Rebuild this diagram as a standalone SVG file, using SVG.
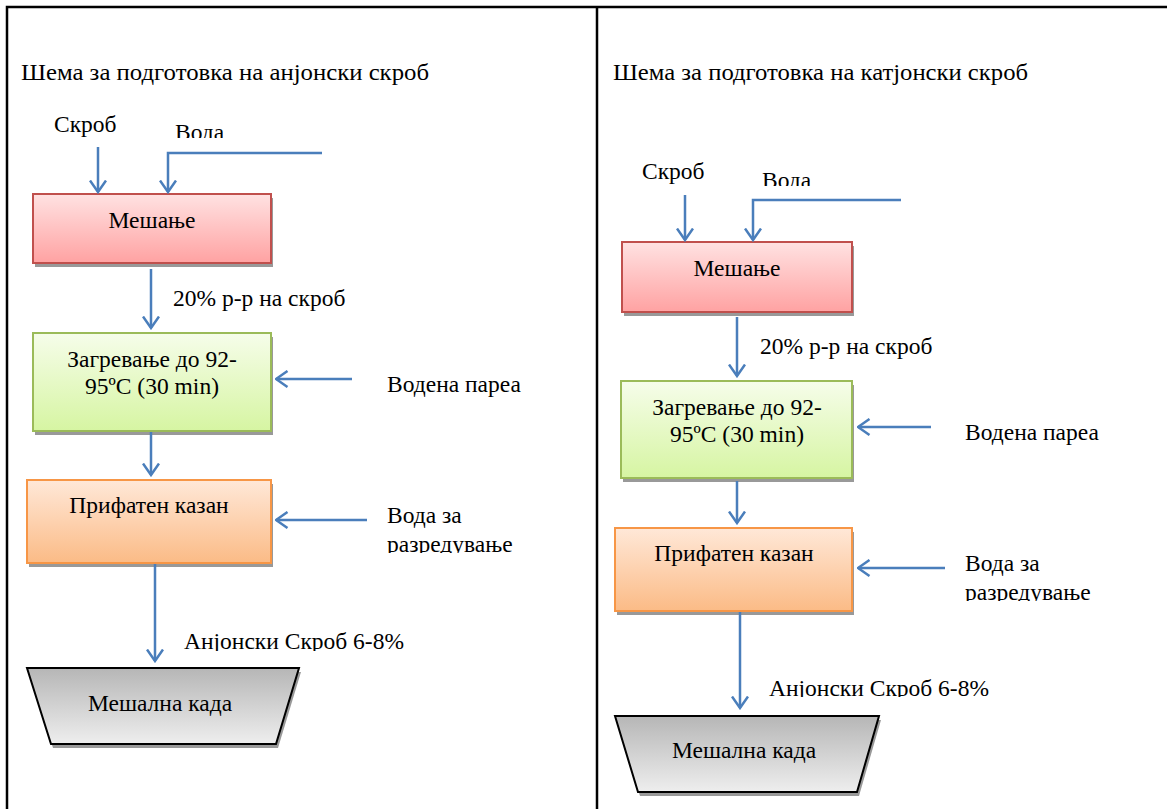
<svg xmlns="http://www.w3.org/2000/svg" width="1167" height="809" viewBox="0 0 1167 809">
<defs>
<linearGradient id="gRed" x1="0" y1="0" x2="0" y2="1"><stop offset="0" stop-color="#ffe2e2"/><stop offset="1" stop-color="#ffa2a2"/></linearGradient>
<linearGradient id="gGreen" x1="0" y1="0" x2="0" y2="1"><stop offset="0" stop-color="#f6fdea"/><stop offset="1" stop-color="#d6f5a2"/></linearGradient>
<linearGradient id="gOrange" x1="0" y1="0" x2="0" y2="1"><stop offset="0" stop-color="#ffe8d8"/><stop offset="1" stop-color="#fbbb86"/></linearGradient>
<linearGradient id="gGray" x1="0" y1="0" x2="0" y2="1"><stop offset="0" stop-color="#b6b6b6"/><stop offset="1" stop-color="#eeeeee"/></linearGradient>
<marker id="arr" viewBox="0 0 14 18" refX="12.5" refY="9" markerWidth="14" markerHeight="18" markerUnits="userSpaceOnUse" orient="auto">
<path d="M1,1 L12.5,9 L1,17" fill="none" stroke="#4a7ebb" stroke-width="2.5"/>
</marker>
<clipPath id="cVodaL"><rect x="150" y="100" width="120" height="38"/></clipPath>
<clipPath id="cVodaR"><rect x="740" y="150" width="120" height="36"/></clipPath>
<clipPath id="cRazL"><rect x="370" y="530" width="200" height="23"/></clipPath>
<clipPath id="cRazR"><rect x="950" y="578" width="200" height="23"/></clipPath>
<clipPath id="cAnL"><rect x="170" y="620" width="260" height="31"/></clipPath>
<clipPath id="cAnR"><rect x="760" y="665" width="260" height="32"/></clipPath>
</defs>
<style>
.t{font-family:'Liberation Serif','Times New Roman',serif;font-size:23.5px;fill:#000}
.h{font-family:'Liberation Serif','Times New Roman',serif;font-size:24px;fill:#000}
.c{text-anchor:middle}
.frame{stroke:#000;stroke-width:2.5;fill:none}
.shadow{fill:#999999}
.red{fill:url(#gRed);stroke:#c0504d;stroke-width:2}
.green{fill:url(#gGreen);stroke:#9bbb59;stroke-width:2}
.orange{fill:url(#gOrange);stroke:#f79646;stroke-width:2}
.gray{fill:url(#gGray);stroke:#000;stroke-width:2}
.conn path{fill:none;stroke:#4a7ebb;stroke-width:2.5;marker-end:url(#arr)}
</style>
<rect width="1167" height="809" fill="#fff"/>
<g id="frame">
<path class="frame" d="M7,809 V7 H1167 M597,7 V809"/>
</g>
<g id="titles" font-family="Liberation Serif, serif">
<text class="h" x="21" y="80" textLength="408" lengthAdjust="spacingAndGlyphs">Шема за подготовка на анјонски скроб</text>
<text class="h" x="613" y="80" textLength="415" lengthAdjust="spacingAndGlyphs">Шема за подготовка на катјонски скроб</text>
</g>
<!-- Left column -->
<g id="L-skrob" font-family="Liberation Serif, serif"><text class="t" x="54" y="132">Скроб</text></g>
<g id="L-voda" font-family="Liberation Serif, serif" clip-path="url(#cVodaL)"><text class="t" x="175" y="140">Вода</text></g>
<g id="L-meshanje" font-family="Liberation Serif, serif">
<rect class="shadow" x="35" y="198" width="238" height="69"/>
<rect class="red" x="33" y="194" width="238" height="69"/>
<text class="t c" x="152" y="228">Мешање</text>
</g>
<g id="L-zagrevanje" font-family="Liberation Serif, serif">
<rect class="shadow" x="35" y="337" width="238" height="98"/>
<rect class="green" x="33" y="333" width="238" height="98"/>
<text class="t c" x="152" y="367">Загревање до 92-</text>
<text class="t c" x="152" y="394">95ºC (30 min)</text>
</g>
<g id="L-prifaten" font-family="Liberation Serif, serif">
<rect class="shadow" x="29" y="484" width="244" height="83"/>
<rect class="orange" x="27" y="480" width="244" height="83"/>
<text class="t c" x="149" y="513">Прифатен казан</text>
</g>
<g id="L-kada" font-family="Liberation Serif, serif">
<path class="shadow" d="M29,672 L301,672 L278,748 L53,748 Z"/>
<path class="gray" d="M27,668 L299,668 L276,744 L51,744 Z"/>
<text class="t c" x="160" y="711">Мешална када</text>
</g>
<g id="L-labels" font-family="Liberation Serif, serif">
<text class="t" x="173" y="306">20% р-р на скроб</text>
<text class="t" x="387" y="392">Водена пареа</text>
<text class="t" x="387" y="523">Вода за</text>
<text class="t" x="387" y="552" clip-path="url(#cRazL)">разредување</text>
<text class="t" x="184" y="649" clip-path="url(#cAnL)">Анјонски Скроб 6-8%</text>
</g>
<!-- Right column -->
<g id="R-skrob" font-family="Liberation Serif, serif"><text class="t" x="642" y="179">Скроб</text></g>
<g id="R-voda" font-family="Liberation Serif, serif" clip-path="url(#cVodaR)"><text class="t" x="762" y="188">Вода</text></g>
<g id="R-meshanje" font-family="Liberation Serif, serif">
<rect class="shadow" x="624" y="246" width="230" height="70"/>
<rect class="red" x="622" y="242" width="230" height="70"/>
<text class="t c" x="737" y="276">Мешање</text>
</g>
<g id="R-zagrevanje" font-family="Liberation Serif, serif">
<rect class="shadow" x="623" y="385" width="231" height="97"/>
<rect class="green" x="621" y="381" width="231" height="97"/>
<text class="t c" x="737" y="415">Загревање до 92-</text>
<text class="t c" x="737" y="442">95ºC (30 min)</text>
</g>
<g id="R-prifaten" font-family="Liberation Serif, serif">
<rect class="shadow" x="617" y="532" width="237" height="83"/>
<rect class="orange" x="615" y="528" width="237" height="83"/>
<text class="t c" x="734" y="561">Прифатен казан</text>
</g>
<g id="R-kada" font-family="Liberation Serif, serif">
<path class="shadow" d="M617,720 L881,720 L859,796 L640,796 Z"/>
<path class="gray" d="M615,716 L879,716 L857,792 L638,792 Z"/>
<text class="t c" x="744" y="758">Мешална када</text>
</g>
<g id="R-labels" font-family="Liberation Serif, serif">
<text class="t" x="760" y="354">20% р-р на скроб</text>
<text class="t" x="965" y="440">Водена пареа</text>
<text class="t" x="965" y="571">Вода за</text>
<text class="t" x="965" y="600" clip-path="url(#cRazR)">разредување</text>
<text class="t" x="769" y="696" clip-path="url(#cAnR)">Анјонски Скроб 6-8%</text>
</g>
<g id="connectors" class="conn">
<path d="M98,147 V192"/>
<path d="M322,153 H168 V192"/>
<path d="M151,269 V328"/>
<path d="M352,379 H276"/>
<path d="M151,432 V475"/>
<path d="M367,520 H276"/>
<path d="M155,564 V661"/>
<path d="M685,195 V240"/>
<path d="M901,200 H753 V240"/>
<path d="M737,317 V376"/>
<path d="M931,427 H858"/>
<path d="M737,481 V523"/>
<path d="M945,568 H858"/>
<path d="M740,612 V708"/>
</g>
</svg>
